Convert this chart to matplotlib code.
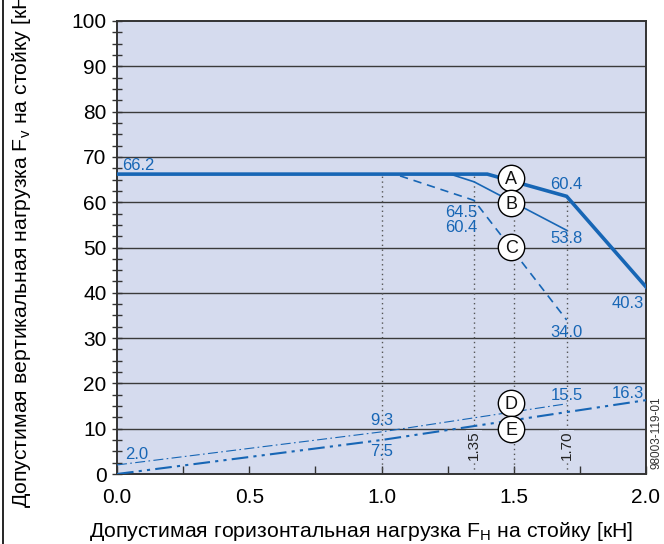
import matplotlib
matplotlib.use("Agg")
import matplotlib.pyplot as plt
from matplotlib.lines import Line2D

plt.rcParams['font.family'] = ['Liberation Sans', 'DejaVu Sans']
plt.rcParams['mathtext.fontset'] = 'custom'
plt.rcParams['mathtext.rm'] = 'Liberation Sans'

# Données (F_H en kN, F_V en kN)
fh_a = [0.0, 1.40, 1.70, 2.00]
fv_a = [66.2, 66.2, 61.3, 41.3]
fh_b = [0.0, 1.26, 1.35, 1.70]
fv_b = [66.2, 66.2, 64.5, 53.8]
fh_c = [0.0, 1.05, 1.35, 1.70]
fv_c = [66.2, 66.2, 60.4, 34.0]
fh_d = [0.0, 1.0, 1.70]
fv_d = [2.0, 9.3, 15.5]
fh_e = [0.0, 1.0, 2.0]
fv_e = [0.0, 7.5, 16.3]

# Lignes pointillées verticales
vlines_x = [1.0, 1.35, 1.5, 1.70]
vlines_top = [66.2, 66.2, 64.6, 61.3]
vline_labels = {1.35: "1.35", 1.70: "1.70"}

# Lettres entourées
letters = ["A", "B", "C", "D", "E"]
letters_x = [1.49, 1.49, 1.49, 1.49, 1.49]
letters_y = [65.3, 59.8, 50.1, 15.6, 9.9]

# Étiquettes des valeurs
val_text = ["66.2", "60.4", "64.5", "60.4", "53.8", "34.0", "40.3",
            "2.0", "9.3", "7.5", "15.5", "16.3"]
val_x = [0.02, 1.70, 1.30, 1.30, 1.70, 1.70, 1.93,
         0.075, 1.0, 1.0, 1.70, 1.93]
val_y = [68.0, 64.0, 57.8, 54.5, 51.9, 31.3, 37.7,
         4.4, 11.7, 4.9, 17.4, 17.8]
val_ha = ["left", "center", "center", "center", "center", "center", "center",
          "center", "center", "center", "center", "center"]

blue = '#1766b5'
bg = '#d5dbee'

fig = plt.figure(figsize=(6.64, 5.44), dpi=100)
ax = fig.add_axes([117/664, 1 - 474/544, 529/664, 453/544])
ax.set_facecolor(bg)

ax.set_xlim(0, 2.0)
ax.set_ylim(0, 100)

# Grille horizontale
for yy in range(10, 100, 10):
    ax.axhline(yy, color='#3a3a3a', lw=1.0, zorder=1)

# Pointillés verticaux
for x, top in zip(vlines_x, vlines_top):
    ax.plot([x, x], [0, top], color='#555555', lw=1.0,
            linestyle=(0, (1, 2.5)), zorder=2)
for x, lab in vline_labels.items():
    ax.text(x, 6.3, lab, rotation=90, ha='center', va='center', fontsize=11,
            color='#222222', zorder=3,
            bbox=dict(facecolor=bg, edgecolor='none', pad=0.5))

# Courbes
ax.plot(fh_a, fv_a, color=blue, lw=2.6, zorder=4, solid_joinstyle='miter')
ax.plot(fh_b, fv_b, color=blue, lw=1.2, zorder=4)
ax.plot(fh_c, fv_c, color=blue, lw=1.2, linestyle=(0, (5, 3.5)), zorder=4)
ax.plot(fh_d, fv_d, color=blue, lw=0.8, linestyle=(0, (9, 3, 1.5, 3)), zorder=4)
ax.plot(fh_e, fv_e, color=blue, lw=1.5,
        linestyle=(0, (8, 2.5, 1.5, 2.5, 1.5, 2.5)), zorder=4)

# Lettres
for lx, ly, lt in zip(letters_x, letters_y, letters):
    ax.plot(lx, ly, marker='o', markersize=19, markerfacecolor='white',
            markeredgecolor='black', markeredgewidth=1.0, zorder=5)
    ax.text(lx, ly - 0.3, lt, ha='center', va='center', fontsize=13,
            color='#111111', zorder=6)

# Valeurs
for t, x, y, ha in zip(val_text, val_x, val_y, val_ha):
    ax.text(x, y, t, ha=ha, va='center', fontsize=12, color=blue, zorder=6)

# Axes et graduations
ax.set_xticks([0.0, 0.5, 1.0, 1.5, 2.0])
ax.set_xticklabels(["0.0", "0.5", "1.0", "1.5", "2.0"])
ax.set_xticks([0.25, 0.75, 1.25, 1.75], minor=True)
ax.set_yticks(range(0, 101, 10))
ax.set_yticks([v * 2.5 for v in range(41)], minor=True)
ax.tick_params(axis='x', which='both', direction='in', length=6, width=1,
               color='#333333', labelsize=15, pad=10)
ax.tick_params(axis='y', which='both', direction='inout', length=7, width=1,
               color='#333333', labelsize=15, pad=4)
for s in ax.spines.values():
    s.set_color('#333333')
    s.set_linewidth(1.4)

ax.set_xlabel("Допустимая горизонтальная нагрузка F$_\\mathrm{H}$ на стойку [кН]",
              fontsize=15.3)
ax.xaxis.set_label_coords((361 - 117) / 529, -0.102)
ax.set_ylabel("Допустимая вертикальная нагрузка F$_\\mathrm{v}$ на стойку [кН]",
              fontsize=15.3)
ax.yaxis.set_label_coords(-0.158, 0.5)

fig.text(657 / 664, 1 - 433 / 544, "98003-119-01", rotation=90, ha='center',
         va='center', fontsize=8.5, color='#333333')

fig.add_artist(Line2D([3 / 664, 3 / 664], [0, 1], color='black', lw=1.2))

fig.savefig("out.png", dpi=100)
